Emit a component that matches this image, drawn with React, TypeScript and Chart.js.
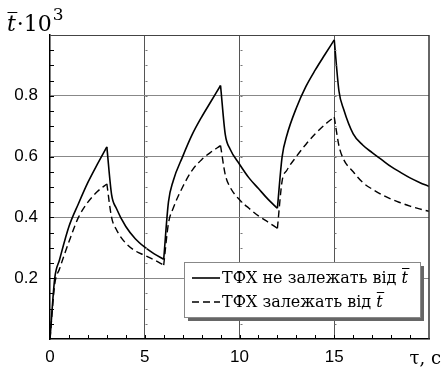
import React, { useEffect, useRef } from "react";
import { Chart, registerables } from "chart.js";

Chart.register(...registerables);

const times = [0, 0.25, 0.5, 1, 1.5, 2, 2.5, 3, 3.25, 3.5, 4, 4.5, 5, 5.5, 6, 6.25, 6.5, 7, 7.5, 8, 8.5, 9, 9.25, 9.5, 10, 10.5, 11, 11.5, 12, 12.25, 12.5, 13, 13.5, 14, 14.5, 15, 15.25, 15.5, 16, 16.5, 17, 17.5, 18, 18.5, 19, 19.5, 20];

const independentTFH = [0, 0.2, 0.26, 0.37, 0.445, 0.515, 0.575, 0.632, 0.475, 0.43, 0.37, 0.33, 0.302, 0.28, 0.262, 0.45, 0.52, 0.6, 0.672, 0.73, 0.782, 0.834, 0.672, 0.625, 0.575, 0.53, 0.495, 0.46, 0.43, 0.6, 0.67, 0.76, 0.83, 0.885, 0.935, 0.984, 0.815, 0.755, 0.675, 0.638, 0.613, 0.59, 0.567, 0.548, 0.53, 0.515, 0.502];

const dependentTFH = [0, 0.18, 0.23, 0.32, 0.4, 0.45, 0.485, 0.51, 0.4, 0.36, 0.315, 0.29, 0.275, 0.26, 0.243, 0.38, 0.43, 0.5, 0.555, 0.59, 0.615, 0.636, 0.54, 0.5, 0.458, 0.43, 0.405, 0.385, 0.364, 0.52, 0.555, 0.6, 0.64, 0.675, 0.705, 0.73, 0.635, 0.59, 0.55, 0.515, 0.493, 0.475, 0.46, 0.448, 0.437, 0.428, 0.42];

const xTickValues = [0, 5, 10, 15, 20];
const xTickLabels = ["0", "5", "10", "15", ""];
const yTickValues = [0, 0.2, 0.4, 0.6, 0.8, 1.0];
const yTickLabels = ["", "0.2", "0.4", "0.6", "0.8", ""];
const legendLabels = ["ТФХ не залежать від", "ТФХ залежать від"];
const xAxisTitle = "τ, c";
const yTitleMain = "·10";
const yTitleExp = "3";
const tSymbol = "t";

const SERIF = "'DejaVu Serif', 'Liberation Serif', serif";

// split a series into monotone runs so each run can be smoothed without rounding the sharp peaks
function monotoneRuns(xs: number[], ys: number[]) {
  const runs: { x: number; y: number }[][] = [];
  let cur: { x: number; y: number }[] = [{ x: xs[0], y: ys[0] }];
  let dir = 0;
  for (let i = 1; i < xs.length; i++) {
    const d = Math.sign(ys[i] - ys[i - 1]);
    if (dir !== 0 && d !== 0 && d !== dir) {
      runs.push(cur);
      cur = [{ x: xs[i - 1], y: ys[i - 1] }];
    }
    if (d !== 0) dir = d;
    cur.push({ x: xs[i], y: ys[i] });
  }
  runs.push(cur);
  return runs;
}

function drawTBar(ctx: CanvasRenderingContext2D, x: number, y: number, size: number, barY: number) {
  ctx.font = `italic ${size}px ${SERIF}`;
  ctx.fillText(tSymbol, x, y);
  const w = ctx.measureText(tSymbol).width;
  ctx.beginPath();
  ctx.lineWidth = 1;
  ctx.moveTo(x + 0.5, Math.round(barY) + 0.5);
  ctx.lineTo(x + w + 1.5, Math.round(barY) + 0.5);
  ctx.stroke();
  return w;
}

const extrasPlugin = {
  id: "extras",
  afterDraw(chart: any) {
    const ctx: CanvasRenderingContext2D = chart.ctx;
    const { left, right, top, bottom } = chart.chartArea;
    const xs = chart.scales.x;
    const ys = chart.scales.y;
    ctx.save();
    ctx.strokeStyle = "#000";
    ctx.fillStyle = "#000";
    ctx.lineWidth = 1;
    ctx.beginPath();
    for (let i = 1; i < 20; i++) {
      const py = Math.round(ys.getPixelForValue(i * 0.05)) + 0.5;
      ctx.moveTo(left, py);
      ctx.lineTo(left + 4, py);
    }
    for (let i = 1; i < 20; i++) {
      const px = Math.round(xs.getPixelForValue(i)) + 0.5;
      ctx.moveTo(px, bottom);
      ctx.lineTo(px, bottom - 4);
    }
    ctx.stroke();
    ctx.strokeStyle = "#777";
    ctx.beginPath();
    for (const gx of [5, 10, 15]) {
      const px = Math.round(xs.getPixelForValue(gx)) + 0.5;
      for (let i = 1; i < 20; i++) {
        const py = Math.round(ys.getPixelForValue(i * 0.05)) + 0.5;
        ctx.moveTo(px, py);
        ctx.lineTo(px + 2, py);
      }
    }
    ctx.stroke();
    ctx.strokeStyle = "#333";
    ctx.lineWidth = 1.5;
    ctx.beginPath();
    ctx.moveTo(right, top);
    ctx.lineTo(right, bottom);
    ctx.stroke();

    // y title
    ctx.fillStyle = "#000";
    ctx.strokeStyle = "#000";
    ctx.textBaseline = "alphabetic";
    ctx.textAlign = "left";
    const tw = drawTBar(ctx, 7, 31, 22, 12);
    ctx.font = `22px ${SERIF}`;
    ctx.fillText(yTitleMain, 7 + tw + 1, 31);
    const mw = ctx.measureText(yTitleMain).width;
    ctx.font = `17px ${SERIF}`;
    ctx.fillText(yTitleExp, 7 + tw + 1 + mw + 1, 20);

    // x axis title
    ctx.font = `18px ${SERIF}`;
    ctx.textAlign = "right";
    ctx.fillText(xAxisTitle, 441, 364);
    ctx.textAlign = "left";

    // legend
    const lx = 184, ly = 262, lw = 236, lh = 55;
    ctx.fillStyle = "#666";
    ctx.fillRect(lx + 4, ly + 4, lw, lh);
    ctx.fillStyle = "#fff";
    ctx.fillRect(lx, ly, lw, lh);
    ctx.strokeStyle = "#888";
    ctx.lineWidth = 1;
    ctx.strokeRect(lx + 0.5, ly + 0.5, lw, lh);
    const rows = [278, 302];
    ctx.strokeStyle = "#000";
    ctx.lineWidth = 1.6;
    ctx.beginPath();
    ctx.moveTo(192, rows[0]);
    ctx.lineTo(220, rows[0]);
    ctx.stroke();
    ctx.setLineDash([7, 4]);
    ctx.beginPath();
    ctx.moveTo(192, rows[1]);
    ctx.lineTo(220, rows[1]);
    ctx.stroke();
    ctx.setLineDash([]);
    ctx.fillStyle = "#000";
    legendLabels.forEach((lab, i) => {
      ctx.font = `16px ${SERIF}`;
      const by = rows[i] + 5;
      ctx.fillText(lab + " ", 222, by);
      const w = ctx.measureText(lab + " ").width;
      drawTBar(ctx, 222 + w, by, 16, by - 15);
    });
    ctx.restore();
  },
};

export default function App() {
  const ref = useRef<HTMLCanvasElement | null>(null);
  useEffect(() => {
    if (!ref.current) return;
    const solidRuns = monotoneRuns(times, independentTFH);
    const dashedRuns = monotoneRuns(times, dependentTFH);
    const datasets: any[] = [
      ...solidRuns.map((run, k) => ({
        label: k === 0 ? legendLabels[0] : "",
        data: run,
        borderColor: "#000",
        borderWidth: 1.6,
        pointRadius: 0,
        cubicInterpolationMode: "monotone",
        fill: false,
      })),
      ...dashedRuns.map((run, k) => ({
        label: k === 0 ? legendLabels[1] : "",
        data: run,
        borderColor: "#000",
        borderWidth: 1.4,
        borderDash: [7, 4],
        pointRadius: 0,
        cubicInterpolationMode: "monotone",
        fill: false,
      })),
    ];
    const chart = new Chart(ref.current, {
      type: "line",
      data: { datasets },
      options: {
        animation: false,
        responsive: false,
        devicePixelRatio: 1,
        layout: { padding: { left: 0, top: 35, right: 14, bottom: 0 } },
        plugins: { legend: { display: false }, tooltip: { enabled: false } },
        scales: {
          x: {
            type: "linear",
            min: 0,
            max: 20,
            afterBuildTicks: (s: any) => {
              s.ticks = xTickValues.map((v) => ({ value: v }));
            },
            afterFit: (s: any) => {
              s.height = 32;
            },
            ticks: {
              autoSkip: false,
              maxRotation: 0,
              padding: 8,
              color: "#000",
              font: { family: "'Liberation Sans', Arial, sans-serif", size: 17 },
              callback: (v: any) => xTickLabels[xTickValues.indexOf(Number(v))] ?? "",
            },
            grid: {
              drawTicks: false,
              lineWidth: 1,
              color: (c: any) => (c.tick && [5, 10, 15].includes(c.tick.value) ? "#555" : "rgba(0,0,0,0)"),
            },
            border: { display: true, color: "#000", width: 1.5 },
          },
          y: {
            type: "linear",
            min: 0,
            max: 1,
            afterBuildTicks: (s: any) => {
              s.ticks = yTickValues.map((v) => ({ value: v }));
            },
            afterFit: (s: any) => {
              s.width = 50;
            },
            ticks: {
              autoSkip: false,
              padding: 12,
              color: "#000",
              font: { family: "'Liberation Sans', Arial, sans-serif", size: 17 },
              callback: (v: any) => {
                const i = yTickValues.findIndex((y) => Math.abs(y - Number(v)) < 1e-6);
                return i >= 0 ? yTickLabels[i] : "";
              },
            },
            grid: {
              drawTicks: false,
              lineWidth: 1,
              color: (c: any) => {
                const v = c.tick ? c.tick.value : 0;
                if (Math.abs(v - 1) < 1e-6) return "#444";
                if (v > 0.01) return "#888";
                return "rgba(0,0,0,0)";
              },
            },
            border: { display: true, color: "#000", width: 1.5 },
          },
        },
      },
      plugins: [extrasPlugin],
    });
    return () => chart.destroy();
  }, []);
  return (
    <div style={{ position: "fixed", left: 0, top: 0, width: 443, height: 371, background: "#fff" }}>
      <canvas ref={ref} width={443} height={371} style={{ width: 443, height: 371, display: "block" }} />
    </div>
  );
}
